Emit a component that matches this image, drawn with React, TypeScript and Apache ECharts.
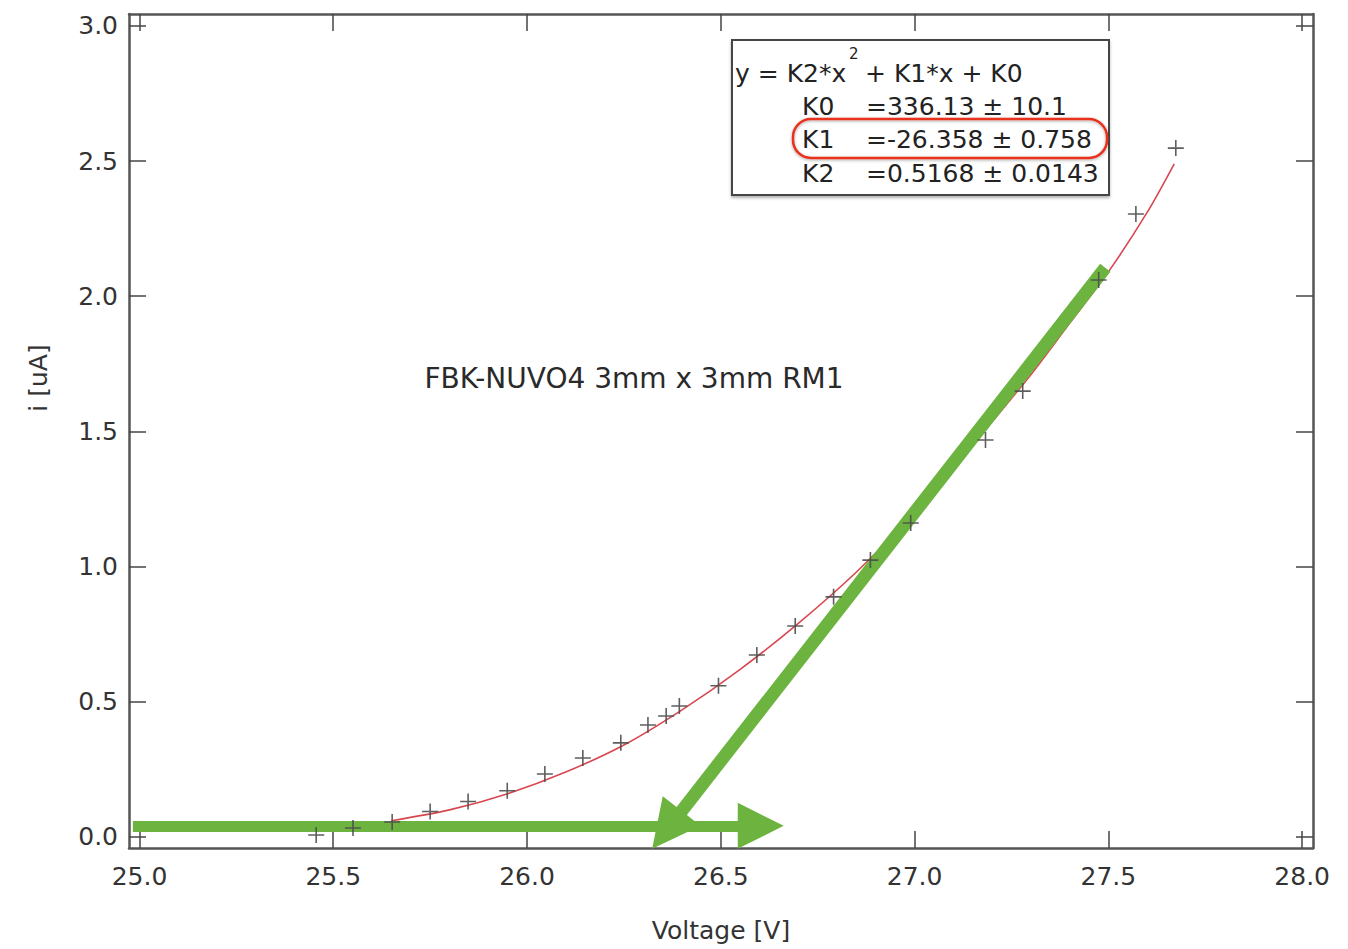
import { useEffect, useRef } from "react";
import * as echarts from "echarts";

// ---- data ----
const xTicks = [25.0, 25.5, 26.0, 26.5, 27.0, 27.5, 28.0];
const yTicks = [0.0, 0.5, 1.0, 1.5, 2.0, 2.5, 3.0];

const voltage = [
  25.456, 25.551, 25.652, 25.75, 25.848, 25.949, 26.046, 26.144, 26.242, 26.312,
  26.359, 26.393, 26.494, 26.593, 26.692, 26.791, 26.886, 26.99, 27.183, 27.279,
  27.475, 27.571, 27.674,
];
const current = [
  0.007, 0.033, 0.055, 0.094, 0.131, 0.171, 0.233, 0.292, 0.348, 0.414,
  0.447, 0.484, 0.559, 0.673, 0.78, 0.888, 1.024, 1.161, 1.468, 1.649,
  2.06, 2.304, 2.548,
];

// fitted curve (red)
const fitV = [25.65, 25.8, 25.95, 26.1, 26.25, 26.4, 26.55, 26.7, 26.85, 27.0, 27.15, 27.3, 27.4, 27.5, 27.6, 27.67];
const fitI = [0.06, 0.1, 0.16, 0.24, 0.34, 0.47, 0.62, 0.79, 0.98, 1.2, 1.45, 1.71, 1.9, 2.09, 2.31, 2.49];

// green arrows (start -> head)
const flatArrowV = [24.983, 26.603];
const flatArrowI = [0.041, 0.041];
const kneeArrowV = [27.492, 26.361];
const kneeArrowI = [2.105, 0.026];

const fitTitleA = "y = K2*x";
const fitTitleSup = "2";
const fitTitleB = "+ K1*x + K0";
const fitNames = ["K0", "K1", "K2"];
const fitValues = ["=336.13 ± 10.1", "=-26.358 ± 0.758", "=0.5168 ± 0.0143"];
const annotation = "FBK-NUVO4 3mm x 3mm RM1";
const xName = "Voltage [V]";
const yName = "i [uA]";

const FONT = "DejaVu Sans";
const GREEN = "#6cb33f";
const AXIS = "#555555";
const TEXT = "#333333";

export default function App() {
  const ref = useRef<HTMLDivElement>(null);

  useEffect(() => {
    if (!ref.current) return;
    const chart = echarts.init(ref.current, undefined, { renderer: "svg" });

    const xMin = 24.973, xMax = 28.028;
    const yMin = -0.041, yMax = 3.044;

    const baseX = (pos: "bottom" | "top", labels: boolean) => ({
      type: "value" as const,
      position: pos,
      min: xMin,
      max: xMax,
      name: labels ? xName : "",
      nameLocation: "middle" as const,
      nameGap: 70,
      nameTextStyle: { fontFamily: FONT, fontSize: 25, color: TEXT },
      axisLine: { show: true, onZero: false, lineStyle: { color: AXIS, width: 2.5 } },
      axisTick: { show: true, inside: true, length: 17, customValues: xTicks, lineStyle: { color: "#444", width: 1.5 } },
      axisLabel: {
        show: labels,
        customValues: xTicks,
        margin: 16,
        fontFamily: FONT,
        fontSize: 25,
        color: TEXT,
        formatter: (v: number) => v.toFixed(1),
      },
      splitLine: { show: false },
    });
    const baseY = (pos: "left" | "right", labels: boolean) => ({
      type: "value" as const,
      position: pos,
      min: yMin,
      max: yMax,
      axisLine: { show: true, onZero: false, lineStyle: { color: AXIS, width: 2.5 } },
      axisTick: { show: true, inside: true, length: 17, customValues: yTicks, lineStyle: { color: "#444", width: 1.5 } },
      axisLabel: {
        show: labels,
        customValues: yTicks,
        margin: 11,
        fontFamily: FONT,
        fontSize: 25,
        color: TEXT,
        formatter: (v: number) => v.toFixed(1),
      },
      splitLine: { show: false },
    });

    const crossPath = "path://M9,0H11V20H9Z M0,9H20V11H0Z";

    const boxText = (text: string, x: number, y: number, size = 25) => ({
      type: "text",
      x,
      y,
      style: { text, fontFamily: FONT, fontSize: size, fill: "#222", verticalAlign: "middle", align: "left" },
      z: 20,
    });

    chart.setOption({
      animation: false,
      backgroundColor: "#ffffff",
      grid: { left: 129, top: 14, width: 1184, height: 834, outerBoundsMode: "none" },
      xAxis: [baseX("bottom", true), baseX("top", false)],
      yAxis: [baseY("left", true), baseY("right", false)],
      series: [
        {
          type: "line",
          data: fitV.map((v, i) => [v, fitI[i]]),
          smooth: 0.3,
          showSymbol: false,
          symbol: "none",
          lineStyle: { color: "#d8474f", width: 1.6 },
          z: 2,
        },
        {
          type: "lines",
          coordinateSystem: "cartesian2d",
          polyline: false,
          data: [{ coords: flatArrowV.map((v, i) => [v, flatArrowI[i]]) }],
          symbol: ["none", "triangle"],
          symbolSize: 46,
          itemStyle: { color: GREEN },
          lineStyle: { color: GREEN, width: 11, opacity: 1, curveness: 0 },
          z: 3,
        },
        {
          type: "lines",
          coordinateSystem: "cartesian2d",
          polyline: false,
          data: [{ coords: kneeArrowV.map((v, i) => [v, kneeArrowI[i]]) }],
          symbol: ["none", "triangle"],
          symbolSize: 48,
          itemStyle: { color: GREEN },
          lineStyle: { color: GREEN, width: 13, opacity: 1, curveness: 0 },
          z: 3,
        },
        {
          type: "scatter",
          data: voltage.map((v, i) => [v, current[i]]),
          symbol: crossPath,
          symbolSize: 16,
          itemStyle: { color: "#4d4d4d", opacity: 0.9 },
          z: 4,
        },
      ],
      graphic: [
        {
          type: "text",
          x: 38,
          y: 378,
          rotation: Math.PI / 2,
          style: { text: yName, fontFamily: FONT, fontSize: 25, fill: TEXT, align: "center", verticalAlign: "middle" },
        },
        {
          type: "text",
          x: 634,
          y: 378,
          style: { text: annotation, fontFamily: FONT, fontSize: 28, fill: "#2a2a2a", align: "center", verticalAlign: "middle" },
          z: 10,
        },
        {
          type: "rect",
          shape: { x: 732, y: 40, width: 377, height: 155 },
          style: { fill: "#ffffff", stroke: "#444", lineWidth: 2, shadowBlur: 3, shadowOffsetY: 2, shadowColor: "rgba(0,0,0,0.3)" },
          z: 15,
        },
        boxText(fitTitleA, 735, 73),
        boxText(fitTitleSup, 849, 54, 15),
        boxText(fitTitleB, 865, 73),
        ...fitNames.map((n, i) => boxText(n, 802, 106 + i * 33.5)),
        ...fitValues.map((t, i) => boxText(t, 866, 106 + i * 33.5)),
        {
          type: "rect",
          shape: { x: 793, y: 119, width: 314, height: 39, r: 18 },
          style: { fill: "none", stroke: "#e8321e", lineWidth: 2.5, shadowBlur: 3, shadowOffsetY: 1, shadowColor: "rgba(0,0,0,0.35)" },
          z: 25,
        },
      ],
    });

    return () => chart.dispose();
  }, []);

  return <div ref={ref} style={{ position: "fixed", left: 0, top: 0, width: 1348, height: 949, background: "#fff" }} />;
}
